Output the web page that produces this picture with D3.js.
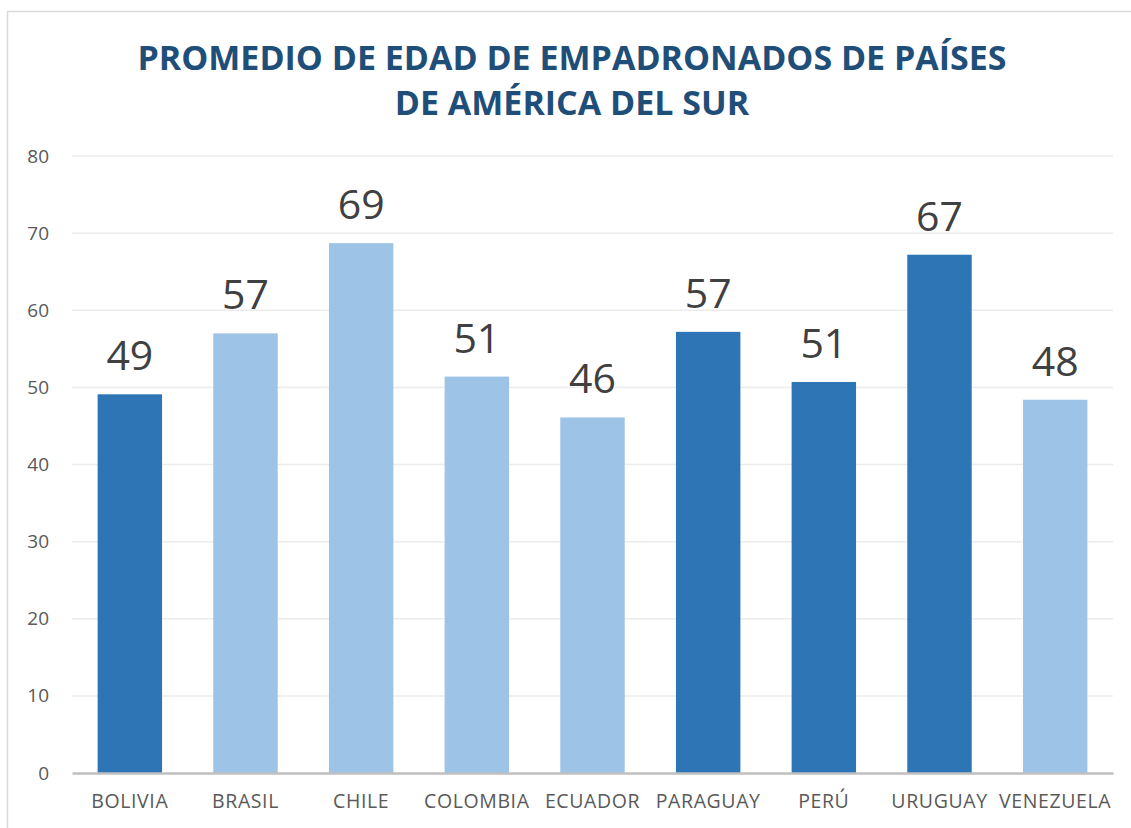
<!DOCTYPE html>
<html>
<head>
<meta charset="utf-8">
<script src="https://cdn.jsdelivr.net/npm/d3@7"></script>
<style>
  body { margin: 0; background: #fff; }
  svg { display: block; font-family: "Open Sans", sans-serif; }
</style>
</head>
<body>
<div id="chart"></div>
<script>
// Datos
const paises = ['BOLIVIA','BRASIL','CHILE','COLOMBIA','ECUADOR','PARAGUAY','PERÚ','URUGUAY','VENEZUELA'];
const edades = [49.1, 57.0, 68.7, 51.4, 46.1, 57.2, 50.7, 67.2, 48.4];
const grupos = ['oscuro','claro','claro','claro','claro','oscuro','oscuro','oscuro','claro'];
const ticksY = [0,10,20,30,40,50,60,70,80];
const titulo = ['PROMEDIO DE EDAD DE EMPADRONADOS DE PAÍSES', 'DE AMÉRICA DEL SUR'];

const width = 1131, height = 828;
const margin = { top: 156, right: 18, bottom: 55, left: 72 };

const svg = d3.select('#chart').append('svg')
  .attr('width', width).attr('height', height);

// Marco del gráfico
svg.append('rect')
  .attr('x', 7.5).attr('y', 11.5)
  .attr('width', width + 20).attr('height', height + 20)
  .attr('fill', '#fff').attr('stroke', '#d9d9d9').attr('stroke-width', 1.5);

const x = d3.scaleBand()
  .domain(paises)
  .range([margin.left, width - margin.right])
  .paddingInner(0.443).paddingOuter(0.2215);

const y = d3.scaleLinear()
  .domain([0, 80])
  .range([height - margin.bottom, margin.top]);

const color = d3.scaleOrdinal()
  .domain(['oscuro','claro'])
  .range(['#2E75B6','#9DC3E6']);

// Título
svg.append('g').selectAll('text').data(titulo).enter()
  .append('text')
  .attr('x', 572).attr('y', (d,i) => 70 + i*45)
  .attr('text-anchor','middle')
  .attr('fill','#1F4E79')
  .style('font-size','34px').style('font-weight','bold')
  .text(d => d);

// Líneas de cuadrícula
svg.append('g').selectAll('line').data(ticksY.filter(t => t > 0)).enter()
  .append('line')
  .attr('x1', margin.left).attr('x2', width - margin.right)
  .attr('y1', d => y(d)).attr('y2', d => y(d))
  .attr('stroke','#ececec').attr('stroke-width',1.5);

// Eje Y
const yAxis = svg.append('g')
  .attr('transform', `translate(${margin.left},0)`)
  .call(d3.axisLeft(y).tickValues(ticksY).tickSize(0).tickPadding(23));
yAxis.select('.domain').remove();
yAxis.selectAll('text').attr('fill','#595959').style('font-size','19px')
  .style('font-family','"Open Sans", sans-serif');

// Barras
const datos = paises.map((p,i) => ({ pais: p, edad: edades[i], grupo: grupos[i] }));

svg.append('g').selectAll('rect').data(datos).enter()
  .append('rect')
  .attr('x', d => x(d.pais))
  .attr('y', d => y(d.edad))
  .attr('width', x.bandwidth())
  .attr('height', d => y(0) - y(d.edad))
  .attr('fill', d => color(d.grupo));

// Etiquetas de valor
svg.append('g').selectAll('text').data(datos).enter()
  .append('text')
  .attr('x', d => x(d.pais) + x.bandwidth()/2)
  .attr('y', d => y(d.edad) - 24)
  .attr('text-anchor','middle')
  .attr('fill','#404040')
  .style('font-size','41px')
  .text(d => d3.format('.0f')(d.edad));

// Eje X
const xAxis = svg.append('g')
  .attr('transform', `translate(0,${y(0)})`)
  .call(d3.axisBottom(x).tickSize(0).tickPadding(21));
xAxis.select('.domain').attr('stroke','#bfbfbf').attr('stroke-width',2.5);
xAxis.selectAll('text').attr('fill','#595959').style('font-size','19.5px')
  .style('letter-spacing','0.6px')
  .style('font-family','"Open Sans", sans-serif');
</script>
</body>
</html>
